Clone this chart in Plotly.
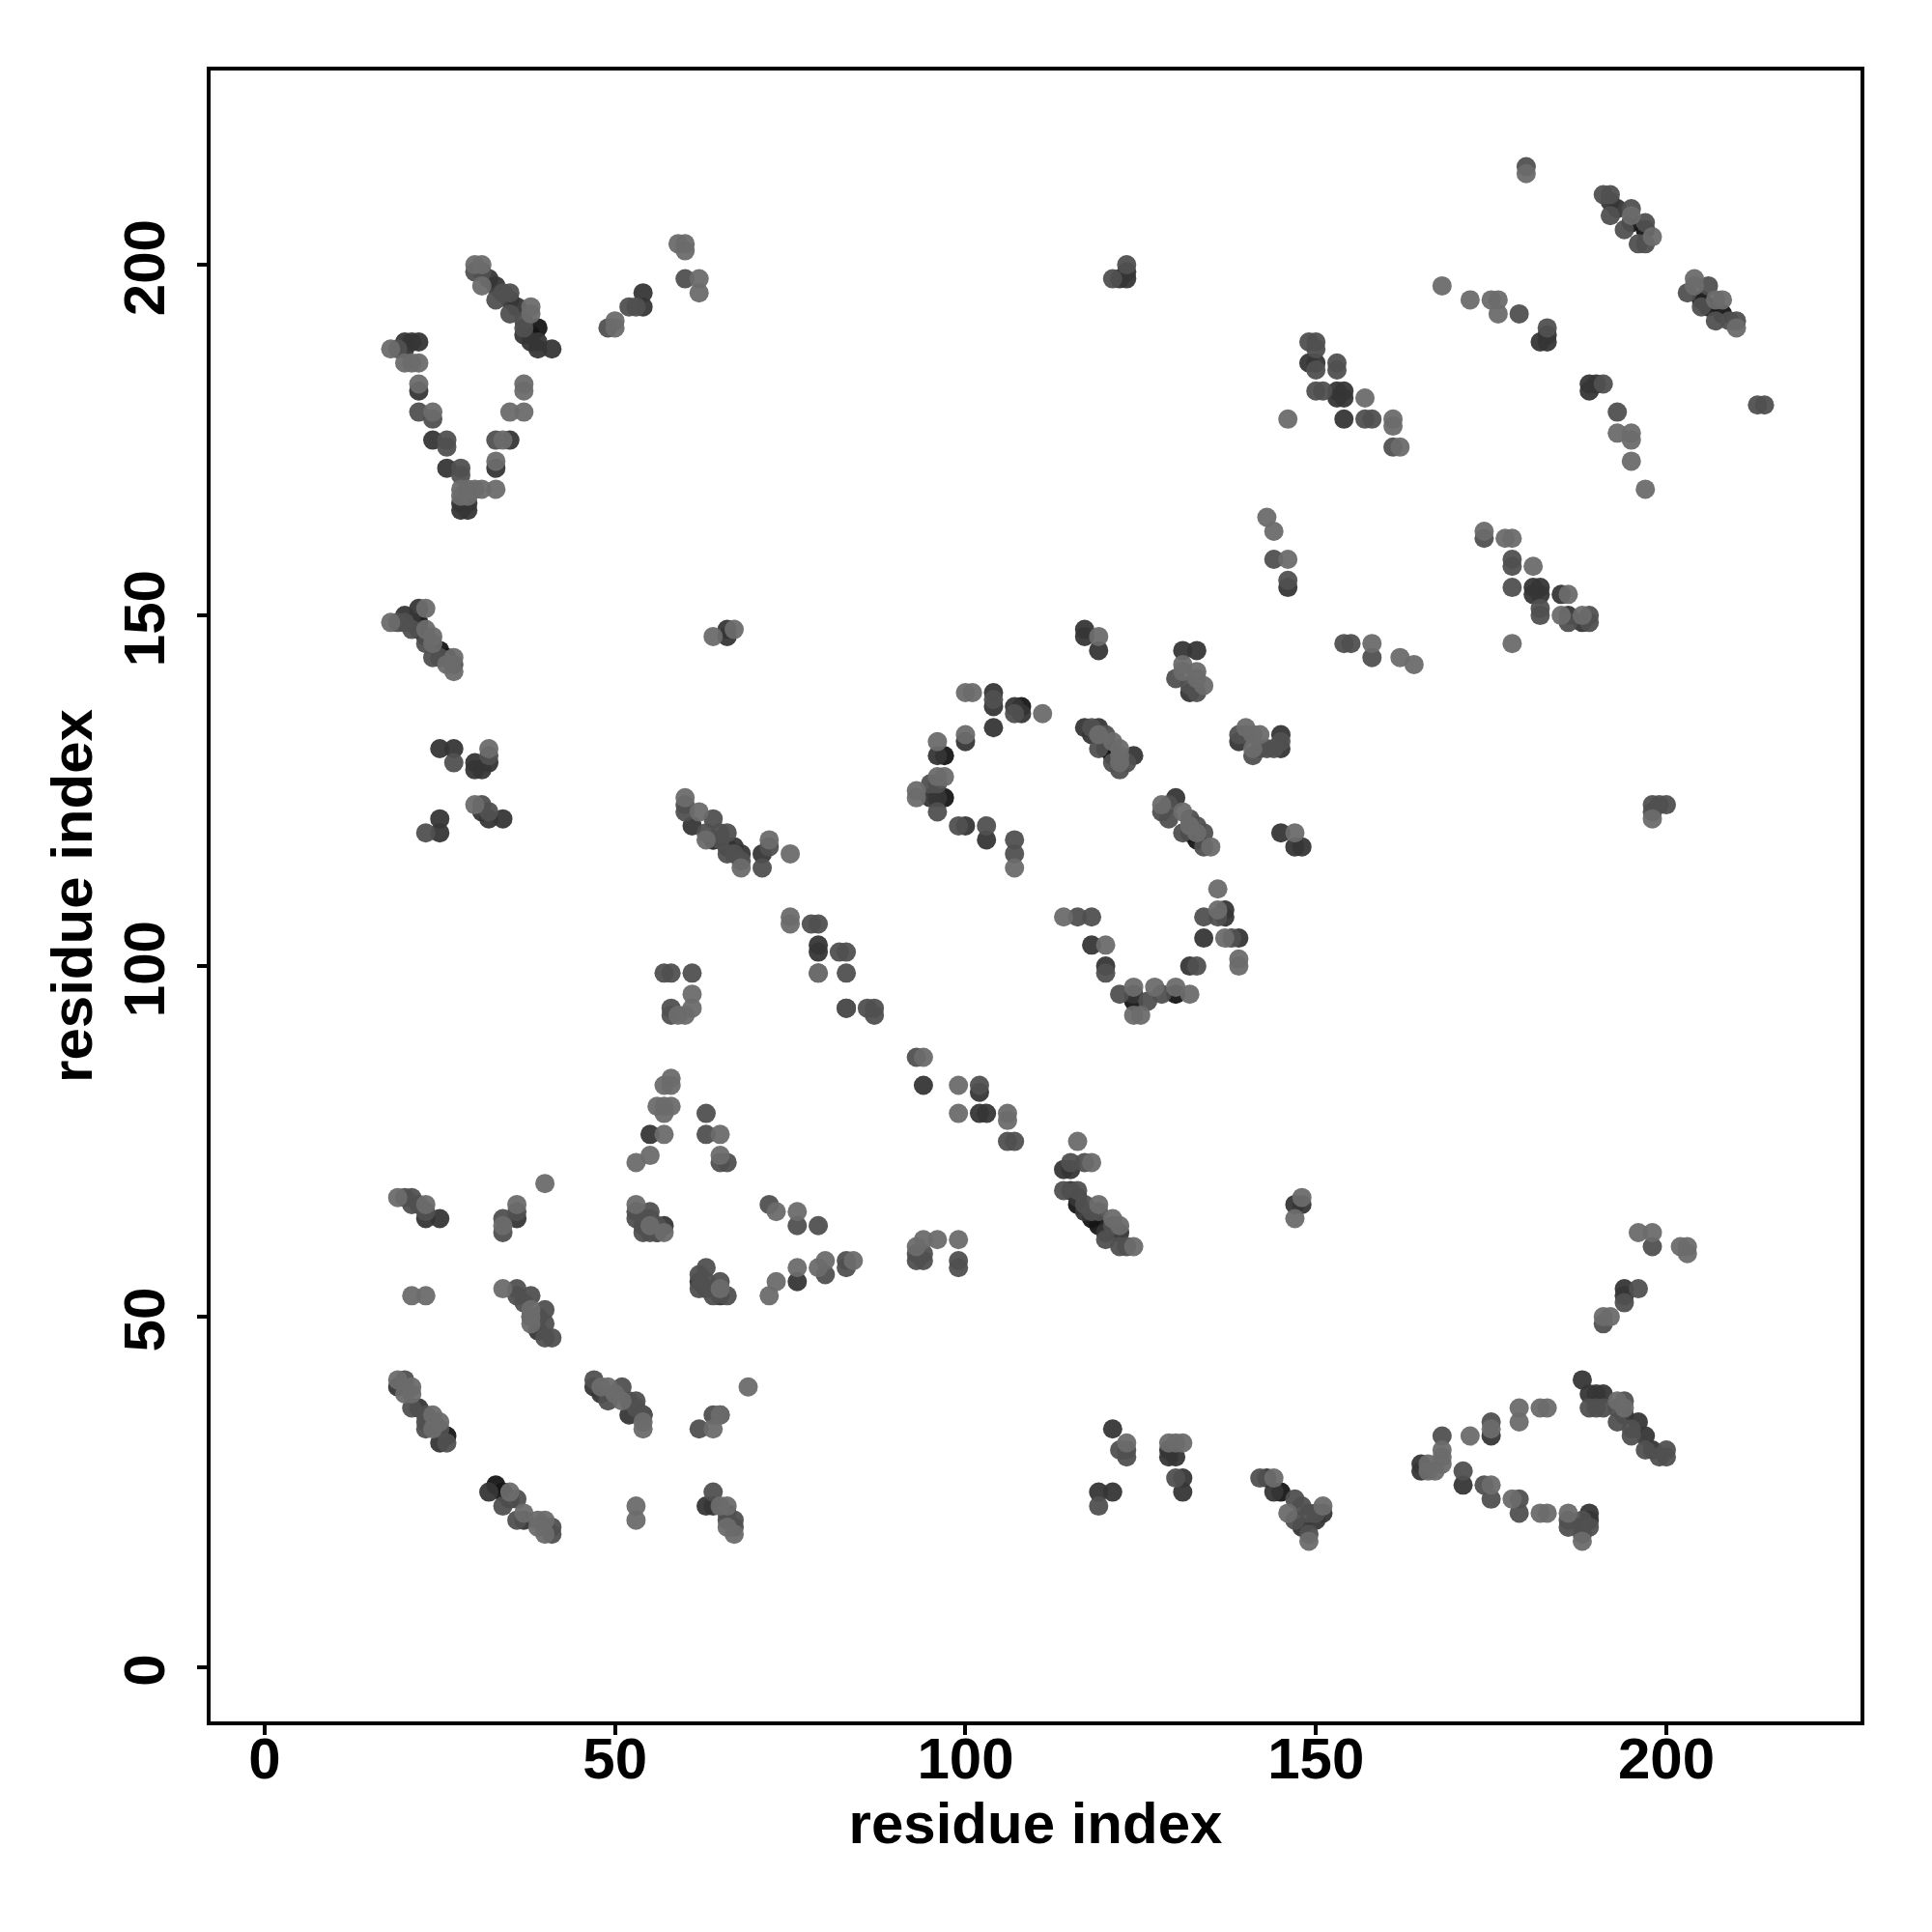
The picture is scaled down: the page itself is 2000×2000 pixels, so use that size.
import plotly.graph_objects as go

x_ticks = [0, 50, 100, 150, 200]
y_ticks = [0, 50, 100, 150, 200]
axis_title = "residue index"

contacts_black = [
 (24,35),(26,33),(34,25),(35,24),(33,26),(38,190),(39,191),(25,145),(26,144),(64,118),(66,117),(120,131),(120,132),
 (133,118),(132,119),(124,95),(130,96),(97,130),(97,124),(145,25),(197,205),(195,206),(205,195),(206,194),(208,193),
 (116,66),(118,64),(119,63),(22,149),(23,147),(108,137),(121,130),
]
contacts_dark = [
 (25,64),(23,64),(36,64),(55,76),(54,63),(57,63),(56,62),(76,55),(63,23),(64,23),(38,50),(39,48),(19,40),(22,37),(25,32),
 (32,25),(37,21),(47,40),(48,39),(54,36),(52,36),(65,36),(62,55),(63,54),(65,53),(66,22),
 (54,194),(54,196),(20,189),(21,189),(22,189),(20,188),(22,182),(24,175),(26,171),(28,165),(29,165),(28,166),(29,166),
 (33,171),(35,175),(32,198),(33,197),(35,195),(36,194),(37,190),(39,189),(39,188),(41,188),(38,189),
 (20,150),(21,149),(22,151),(22,148),(66,147),(66,148),(25,131),(27,131),(30,129),(31,128),(30,128),(32,129),
 (25,121),(25,119),(32,121),(34,121),(31,122),(61,120),(64,118),(67,117),(68,116),(71,116),(79,102),
 (117,148),(117,147),(119,145),(131,145),(133,145),(132,139),(104,139),(104,137),(104,134),(107,137),(108,136),(100,132),
 (96,130),(95,124),(96,124),(100,120),(103,118),(117,134),(118,133),(119,134),(124,130),(139,132),(145,133),(145,131),
 (130,124),(145,119),(147,117),(148,117),(137,107),(137,108),(134,104),(139,104),(118,103),(120,100),(132,100),(124,96),
 (121,34),(119,25),(121,25),(130,30),(129,30),(129,31),(131,27),(131,25),(143,27),(144,25),(150,21),(151,22),(148,20),
 (165,28),(165,29),(171,26),(175,33),(188,41),(189,39),(190,39),(191,39),(194,36),(196,35),(197,33),(198,31),
 (189,22),(189,21),(188,20),(194,54),(194,53),(147,66),(148,66),(154,178),(153,182),(154,182),(153,181),(154,181),
 (189,183),(190,183),(189,182),(182,189),(183,189),(183,190),(192,209),(193,208),(149,186),(150,186),(146,154),
 (182,153),(181,154),(182,154),(181,153),(185,153),(186,150),(188,149),(123,198),(122,198),(123,199),
 (102,82),(102,79),(103,79),(94,83),(79,103),(83,94),(115,71),(114,71),(115,68),(116,67),(117,65),(120,62),(122,62),
]
contacts_mid = [
 (20,67),(21,67),(21,66),(22,66),(23,65),(34,64),(34,62),(36,65),(63,79),(63,76),(66,72),(65,72),
 (53,65),(53,64),(55,65),(55,64),(56,63),(54,62),(55,62),(56,62),
 (36,54),(36,53),(37,52),(38,53),(40,51),(40,49),(39,50),(41,47),(40,47),
 (20,41),(21,37),(23,36),(23,34),(25,34),(26,32),(23,35),
 (34,23),(36,24),(36,21),(40,20),(41,20),(41,19),
 (47,41),(49,38),(51,40),(52,38),(53,38),(53,37),(54,36),
 (64,25),(66,21),(67,20),(67,21),(64,36),(62,34),(63,57),(63,55),(65,55),(64,54),(62,56),(62,54),(64,53),(66,53),(83,58),(80,56),(83,57),
 (72,66),(76,63),(79,63),(61,99),(57,99),(58,99),(58,94),(58,93),(83,94),
 (60,198),(52,194),(53,194),(49,191),(19,188),(22,179),(24,178),(26,174),(26,175),(28,171),(28,170),(33,175),
 (31,199),(30,199),(33,195),(34,196),(35,196),(35,193),(37,192),(37,191),
 (19,149),(20,149),(21,148),(23,146),(24,144),(25,144),(27,143),
 (27,129),(32,130),(31,123),(32,122),(23,119),(60,123),(60,122),(63,119),(64,121),(65,119),(66,119),(65,118),(68,115),(66,116),(67,116),(71,114),(72,117),(79,106),(87,94),
 (118,134),(120,133),(119,131),(122,128),(123,129),(121,129),(130,141),(132,140),(133,139),(140,133),(141,130),(145,132),(142,131),(143,131),(144,131),(139,133),
 (129,123),(128,122),(129,121),(132,121),(133,120),(134,119),(134,117),(131,119),
 (107,118),(107,116),(103,120),(99,120),(95,126),(96,126),(96,122),(104,138),(107,136),
 (116,107),(118,107),(120,99),(133,100),(136,107),(134,107),(138,104),(122,96),(126,95),(128,96),
 (122,31),(123,31),(123,30),(119,23),(130,27),(142,27),(147,24),(148,23),(147,21),(149,22),(150,22),(149,19),
 (168,33),(175,35),(171,28),(174,26),(175,24),(179,22),(179,24),(186,21),(186,20),(188,19),(188,21),(189,20),
 (193,37),(193,35),(194,38),(195,34),(195,33),(197,31),(199,30),(200,31),(200,30),(189,37),(190,37),(191,37),
 (198,60),(191,49),(194,52),(196,54),(150,189),(149,189),(150,188),(150,185),(153,186),(153,185),(150,182),(151,182),(157,178),(158,178),(161,174),
 (191,210),(192,210),(192,207),(194,205),(195,208),(196,203),(197,203),(197,206),(203,196),(205,194),(206,197),(207,192),(209,192),(210,192),(214,180),(213,180),
 (179,193),(183,191),(191,183),(193,179),(180,214),(144,158),(146,155),(174,161),(178,158),(178,157),(178,154),(182,151),(182,150),(186,149),(189,150),(189,149),(154,146),(155,146),(158,144),
 (198,122),(198,123),(199,123),(200,123),(121,198),(123,200),(93,58),(94,58),(99,58),(99,57),(93,59),(94,59),(93,87),
 (102,83),(106,75),(107,75),(116,68),(117,66),(118,65),(119,65),(120,61),(121,63),(122,60),(123,60),(115,72),(117,72),(114,68),
 (86,94),(87,93),(78,106),(82,102),(83,102),(83,99),
]
contacts_light = [
 (19,67),(23,66),(40,69),(34,63),(36,66),(21,53),(23,53),(34,54),(38,51),(38,50),(38,49),
 (19,41),(21,40),(21,39),(20,39),(24,36),(25,35),(24,34),(35,25),(37,22),(39,21),(40,21),(39,20),(40,19),
 (48,40),(49,40),(50,39),(51,38),(54,34),(54,35),(53,23),(53,21),(65,23),(66,23),(66,20),(67,19),(69,40),(65,36),(64,34),
 (58,84),(57,83),(58,83),(56,80),(57,80),(58,80),(57,79),(57,76),(55,73),(53,72),(65,76),(65,73),(53,66),(55,63),(57,62),
 (65,54),(72,53),(73,55),(76,57),(79,57),(80,58),(84,58),(73,65),(76,65),(61,96),(59,93),(60,93),(79,99),(61,94),
 (59,203),(60,203),(60,202),(62,198),(62,196),(50,192),(50,191),(18,188),(20,186),(21,186),(22,186),(22,183),(24,179),(28,168),(29,168),(30,168),(31,168),(33,168),(28,167),(29,167),
 (33,172),(34,175),(35,179),(37,179),(37,183),(37,182),(30,200),(31,200),(31,197),(38,194),(38,193),
 (18,149),(23,151),(24,147),(23,148),(24,146),(26,143),(27,144),(27,142),(64,147),(67,148),(32,131),(30,123),(60,124),(62,122),(63,118),(72,118),(75,116),(75,107),(75,106),(68,114),
 (119,147),(131,143),(131,142),(133,142),(133,141),(134,140),(100,139),(101,139),(111,136),(100,133),(96,132),(97,127),(96,127),(93,125),(93,124),
 (119,133),(121,132),(122,131),(122,130),(122,129),(141,133),(142,133),(141,131),(140,134),
 (128,123),(131,122),(132,120),(135,117),(133,119),(147,119),(107,114),
 (136,111),(136,108),(139,101),(139,100),(114,107),(120,103),(127,97),(130,97),(132,96),(124,97),(124,93),(125,93),(137,104),
 (123,32),(129,32),(130,32),(131,32),(144,27),(146,22),(151,23),(149,18),(166,29),(166,28),(167,28),(168,29),(168,30),(168,31),(172,33),(179,37),(179,35),(182,37),(183,37),
 (175,34),(175,26),(178,24),(182,22),(183,22),(186,22),(188,18),(193,38),(194,37),(196,62),(198,62),(202,60),(203,60),(203,59),(191,50),(192,50),(148,67),(147,64),
 (146,178),(161,178),(161,177),(162,174),(157,181),(198,204),(195,207),(204,198),(204,197),(207,195),(208,195),(210,191),(168,197),(172,195),(175,195),(176,195),(176,193),
 (193,176),(195,176),(195,175),(195,172),(197,168),(180,213),(143,164),(144,162),(146,158),(174,162),(177,161),(178,161),(181,157),(186,153),(185,150),(188,150),(178,146),(158,146),(162,144),(164,143),
 (198,121),(94,61),(96,61),(99,61),(93,60),(94,87),(99,83),(99,79),(106,79),(106,78),(116,75),(118,72),(122,63),(124,60),(119,66),(121,64),
 (79,99),
]

fig = go.Figure()
for pts, colour in [(contacts_black, "#161616"), (contacts_dark, "#363636"), (contacts_mid, "#505050"), (contacts_light, "#6c6c6c")]:
    fig.add_trace(go.Scatter(
        x=[p[0] for p in pts], y=[p[1] for p in pts], mode="markers",
        marker=dict(size=20, color=colour, opacity=0.95, line=dict(width=0)),
        showlegend=False, hoverinfo="skip",
    ))

axis_common = dict(
    range=[-7.7, 227.7], showgrid=False, zeroline=False, showline=True, mirror=True,
    linecolor="black", linewidth=4, ticks="outside", ticklen=10, tickwidth=4, tickcolor="black",
    tickfont=dict(family="Liberation Sans", size=60, color="black", weight="bold"),
)
title_font = dict(family="Liberation Sans", size=60, color="black", weight="bold")
fig.update_xaxes(tickvals=x_ticks, ticklabelstandoff=-27, title=dict(text=axis_title, font=title_font, standoff=6), **axis_common)
fig.update_yaxes(tickvals=y_ticks, tickangle=-90, ticklabelstandoff=10, ticklabelshift=12,
                 title=dict(text=axis_title, font=title_font, standoff=2), **axis_common)
fig.update_layout(
    width=2000, height=2000, autosize=False, plot_bgcolor="white", paper_bgcolor="white",
    margin=dict(l=210, r=82, t=65, b=226),
)
fig.write_html("out.html")
